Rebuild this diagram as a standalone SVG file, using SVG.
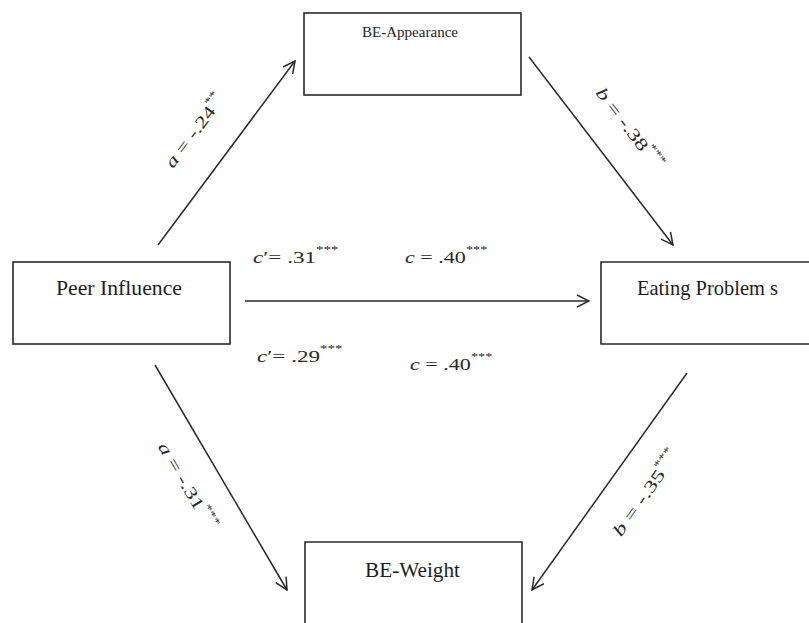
<svg xmlns="http://www.w3.org/2000/svg" width="809" height="623" viewBox="0 0 809 623">
<defs>
<style>
.box{fill:#fff;stroke:#2a2a2a;stroke-width:1.6}
.t{font-family:"Liberation Serif","Times New Roman",serif;fill:#1e1e1e}
.lab{font-family:"Liberation Serif","Times New Roman",serif;fill:#2a2a2a;font-size:17px}
.it{font-style:italic}
.sup{font-size:11px}
.arr{stroke:#2a2a2a;stroke-width:1.5;fill:none;marker-end:url(#ah)}
</style>
<marker id="ah" viewBox="0 0 14 14" refX="13" refY="7" markerWidth="14" markerHeight="14" orient="auto" markerUnits="userSpaceOnUse">
<path d="M1,1 L13,7 L1,13" fill="none" stroke="#2a2a2a" stroke-width="1.5"/>
</marker>
</defs>
<rect width="809" height="623" fill="#fff"/>
<g id="connectors">
<line class="arr" x1="158" y1="245" x2="295" y2="61"/>
<line class="arr" x1="529" y1="57" x2="673" y2="245"/>
<line class="arr" x1="245" y1="301" x2="589" y2="301"/>
<line class="arr" x1="155" y1="365" x2="287" y2="590"/>
<line class="arr" x1="687" y1="373" x2="532" y2="590"/>
</g>
<g id="node-be-appearance">
<rect class="box" x="304" y="13" width="217" height="82"/>
<text class="t" x="362" y="37" font-size="15" textLength="96" lengthAdjust="spacingAndGlyphs">BE-Appearance</text>
</g>
<g id="node-peer-influence">
<rect class="box" x="13" y="262" width="217" height="82"/>
<text class="t" x="56" y="295" font-size="21" textLength="126" lengthAdjust="spacingAndGlyphs">Peer Influence</text>
</g>
<g id="node-eating-problems">
<path class="box" d="M812,262 H601 V344 H812"/>
<text class="t" x="637" y="295" font-size="21" textLength="141" lengthAdjust="spacingAndGlyphs">Eating Problem s</text>
</g>
<g id="node-be-weight">
<path class="box" d="M305,630 V542 H522 V630"/>
<text class="t" x="365" y="577" font-size="21" textLength="95" lengthAdjust="spacingAndGlyphs">BE-Weight</text>
</g>
<g id="labels">
<text class="lab" transform="translate(173,169) rotate(-53) scale(1.35,1)"><tspan class="it">a</tspan> = -.24<tspan class="sup" dy="-9">**</tspan></text>
<text class="lab" transform="translate(595,93) rotate(52.5) scale(1.4,1)"><tspan class="it">b</tspan> = -.38<tspan class="sup" dy="-9">***</tspan></text>
<text class="lab" transform="translate(157.5,446.6) rotate(59.6) scale(1.4,1)"><tspan class="it">a</tspan> = -.31<tspan class="sup" dy="-9">***</tspan></text>
<text class="lab" transform="translate(621,537.5) rotate(-54.5) scale(1.45,1)"><tspan class="it">b</tspan> = -.35<tspan class="sup" dy="-9">***</tspan></text>
<text class="lab" transform="translate(253,263) scale(1.36,1)"><tspan class="it">c</tspan>′= .31<tspan class="sup" dy="-10">***</tspan></text>
<text class="lab" transform="translate(405,263) scale(1.3,1)"><tspan class="it">c</tspan> = .40<tspan class="sup" dy="-10">***</tspan></text>
<text class="lab" transform="translate(257,362) scale(1.36,1)"><tspan class="it">c</tspan>′= .29<tspan class="sup" dy="-10">***</tspan></text>
<text class="lab" transform="translate(410,370) scale(1.3,1)"><tspan class="it">c</tspan> = .40<tspan class="sup" dy="-10">***</tspan></text>
</g>
</svg>
